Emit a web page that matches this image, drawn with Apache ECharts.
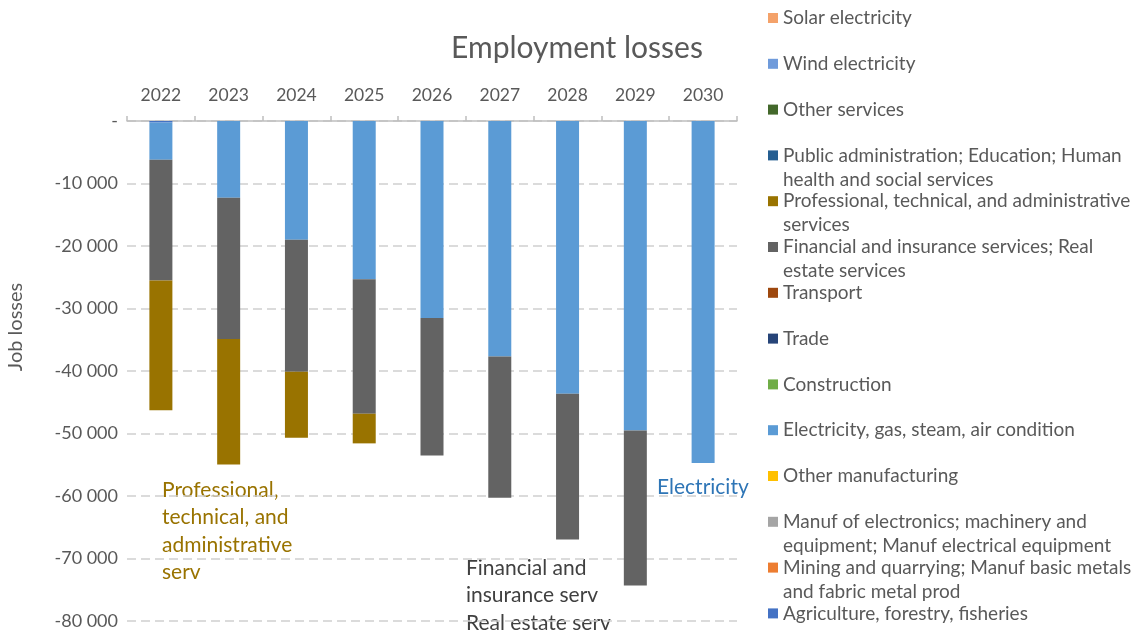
<!DOCTYPE html>
<html>
<head>
<meta charset="utf-8">
<script src="https://cdn.jsdelivr.net/npm/echarts@6/dist/echarts.min.js"></script>
<style>
  html, body { margin: 0; padding: 0; background: #fff; }
  #employment_losses { width: 1138px; height: 635px; }
</style>
</head>
<body>
<div id="employment_losses"></div>
<script>
const years = ["2022", "2023", "2024", "2025", "2026", "2027", "2028", "2029", "2030"];

// series in stacking order (first = closest to zero)
const sectors = [
  "Agriculture, forestry, fisheries",
  "Mining and quarrying; Manuf basic metals and fabric metal prod",
  "Manuf of electronics; machinery and equipment; Manuf electrical equipment",
  "Other manufacturing",
  "Electricity, gas, steam, air condition",
  "Construction",
  "Trade",
  "Transport",
  "Financial and insurance services; Real estate services",
  "Professional, technical, and administrative services",
  "Public administration; Education; Human health and social services",
  "Other services",
  "Wind electricity",
  "Solar electricity"
];
const sectorColors = [
  "#4472C4", "#ED7D31", "#A5A5A5", "#FFC000", "#5B9BD5", "#70AD47", "#264478",
  "#9E480E", "#636363", "#997300", "#255E91", "#43682B", "#6F9BDB", "#F4A26A"
];

const zeros = [0, 0, 0, 0, 0, 0, 0, 0, 0];
const agriculture = [-250, 0, 0, 0, 0, 0, 0, 0, 0];
const electricity = [-5950, -12290, -18990, -25330, -31500, -37680, -43640, -49500, -54730];
const financial = [-19300, -22570, -21140, -21510, -22000, -22580, -23330, -24810, 0];
const professional = [-20760, -20080, -10540, -4740, 0, 0, 0, 0, 0];

const sectorValues = {
  "Agriculture, forestry, fisheries": agriculture,
  "Electricity, gas, steam, air condition": electricity,
  "Financial and insurance services; Real estate services": financial,
  "Professional, technical, and administrative services": professional
};

// legend labels wrapped like the original (first line in legend, rest below)
const legendLines = {
  "Public administration; Education; Human health and social services": ["Public administration; Education; Human", "health and social services"],
  "Professional, technical, and administrative services": ["Professional, technical, and administrative", "services"],
  "Financial and insurance services; Real estate services": ["Financial and insurance services; Real", "estate services"],
  "Manuf of electronics; machinery and equipment; Manuf electrical equipment": ["Manuf of electronics; machinery and", "equipment; Manuf electrical equipment"],
  "Mining and quarrying; Manuf basic metals and fabric metal prod": ["Mining and quarrying; Manuf basic metals", "and fabric metal prod"]
};

const yMin = -80000;
const yMax = 0;
const yStep = 10000;

const fontFamily = "Lato, 'Open Sans', sans-serif";
const textGray = "#595959";

// legend layout
const legendOrder = sectors.slice().reverse();
const legendLeft = 763;
const legendFirstY = 17;
const legendStep = 45.8;
const legendFont = 19;

const chart = echarts.init(document.getElementById("employment_losses"));

const legendExtraLines = [];
legendOrder.forEach((name, i) => {
  const lines = legendLines[name];
  if (!lines) return;
  lines.slice(1).forEach((line, k) => {
    legendExtraLines.push({
      type: "text",
      x: legendLeft + 20,
      y: legendFirstY + i * legendStep + 25 * (k + 1),
      style: {
        text: line,
        fontSize: legendFont,
        fill: textGray,
        fontFamily: fontFamily,
        verticalAlign: "middle"
      }
    });
  });
});

const option = {
  animation: false,
  textStyle: { fontFamily: fontFamily },
  color: sectorColors,
  title: {
    text: "Employment losses",
    left: 572,
    textAlign: "center",
    top: 28,
    textStyle: { fontSize: 30, fontWeight: "normal", color: textGray, fontFamily: fontFamily }
  },
  legend: {
    orient: "vertical",
    left: legendLeft,
    top: legendFirstY - 16.5,
    itemWidth: 10,
    itemHeight: 10,
    itemGap: legendStep - 25,
    icon: "rect",
    data: legendOrder,
    formatter: (name) => (legendLines[name] ? legendLines[name][0] : name),
    textStyle: {
      fontSize: legendFont,
      color: textGray,
      lineHeight: 25
    }
  },
  grid: { left: 127, right: 401, top: 121, bottom: 14 },
  xAxis: {
    type: "category",
    position: "top",
    data: years,
    axisLine: { show: true, lineStyle: { color: "#bfbfbf", width: 1.5 } },
    axisTick: { show: true, length: 5, lineStyle: { color: "#bfbfbf", width: 1.5 } },
    axisLabel: { fontSize: 17.5, color: textGray, margin: 17 }
  },
  yAxis: {
    type: "value",
    min: yMin,
    max: yMax,
    interval: yStep,
    axisLine: { show: false },
    axisTick: { show: false },
    axisLabel: {
      fontSize: 18,
      color: textGray,
      margin: 9,
      formatter: (v) => {
        if (v === 0) return "-";
        const s = String(Math.abs(v)).replace(/\B(?=(\d{3})+(?!\d))/g, " ");
        return "-" + s;
      }
    },
    splitLine: { show: true, lineStyle: { color: "#d0d0d0", type: [9, 5], width: 1.5 } }
  },
  series: sectors.map((name) => ({
    name: name,
    type: "bar",
    stack: "losses",
    barWidth: 23,
    data: sectorValues[name] || zeros
  })),
  graphic: legendExtraLines.concat([
    {
      type: "text",
      x: 16,
      y: 327,
      rotation: Math.PI / 2,
      style: {
        text: "Job losses",
        fontSize: 20,
        fill: textGray,
        fontFamily: fontFamily,
        align: "center",
        verticalAlign: "middle"
      }
    },
    {
      type: "text",
      left: 162,
      top: 476,
      style: {
        text: "Professional,\ntechnical, and\nadministrative\nserv",
        fontSize: 21,
        lineHeight: 27.5,
        fill: "#997300",
        fontFamily: fontFamily
      }
    },
    {
      type: "text",
      left: 466,
      top: 554,
      style: {
        text: "Financial and\ninsurance serv\nReal estate serv",
        fontSize: 21,
        lineHeight: 27.5,
        fill: "#404040",
        fontFamily: fontFamily
      }
    },
    {
      type: "text",
      left: 657,
      top: 477,
      style: {
        text: "Electricity",
        fontSize: 21,
        fill: "#2E75B6",
        fontFamily: fontFamily
      }
    }
  ])
};

chart.setOption(option);
</script>
</body>
</html>
